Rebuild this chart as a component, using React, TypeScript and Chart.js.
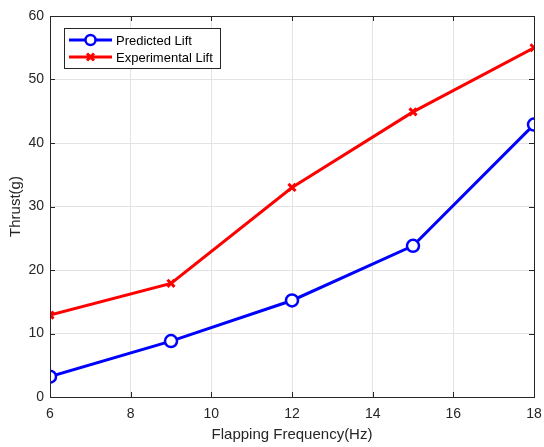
import React, { useEffect, useRef } from "react";
import { Chart, registerables } from "chart.js";

Chart.register(...registerables);

const frequencies = [6, 9, 12, 15, 18];
const predictedLift = [3.2, 8.8, 15.2, 23.8, 42.9];
const experimentalLift = [12.9, 17.9, 33.0, 44.9, 55.0];
const seriesNames = ["Predicted Lift", "Experimental Lift"];
const xTitle = "Flapping Frequency(Hz)";
const yTitle = "Thrust(g)";

const FONT = "'Liberation Sans', Arial, Helvetica, sans-serif";
const TEXT = "#262626";

const framePlugin = {
  id: "frame",
  afterDatasetsDraw(chart: any) {
    const { ctx, chartArea: a, scales } = chart;
    ctx.save();
    ctx.strokeStyle = "#262626";
    ctx.lineWidth = 1;
    ctx.strokeRect(a.left + 0.5, a.top + 0.5, a.right - a.left, a.bottom - a.top);
    const tl = 5;
    ctx.beginPath();
    scales.x.ticks.forEach((t: any) => {
      const px = Math.round(scales.x.getPixelForValue(t.value)) + 0.5;
      ctx.moveTo(px, a.bottom);
      ctx.lineTo(px, a.bottom - tl);
      ctx.moveTo(px, a.top);
      ctx.lineTo(px, a.top + tl);
    });
    scales.y.ticks.forEach((t: any) => {
      const py = Math.round(scales.y.getPixelForValue(t.value)) + 0.5;
      ctx.moveTo(a.left, py);
      ctx.lineTo(a.left + tl, py);
      ctx.moveTo(a.right, py);
      ctx.lineTo(a.right - tl, py);
    });
    ctx.stroke();

    // legend
    const lx = a.left + 14;
    const ly = a.top + 12;
    const lw = 156;
    const lh = 40;
    ctx.fillStyle = "#ffffff";
    ctx.fillRect(lx, ly, lw, lh);
    ctx.strokeStyle = "#262626";
    ctx.strokeRect(lx + 0.5, ly + 0.5, lw, lh);
    const items = chart.data.datasets;
    items.forEach((ds: any, i: number) => {
      const y = ly + 12 + i * 17;
      const x0 = lx + 5;
      const x1 = lx + 48;
      ctx.strokeStyle = ds.borderColor;
      ctx.lineWidth = 3;
      ctx.beginPath();
      ctx.moveTo(x0, y);
      ctx.lineTo(x1, y);
      ctx.stroke();
      const cx = (x0 + x1) / 2;
      if (ds.pointStyle === "circle") {
        ctx.fillStyle = "#ffffff";
        ctx.lineWidth = 2.5;
        ctx.beginPath();
        ctx.arc(cx, y, 5, 0, Math.PI * 2);
        ctx.fill();
        ctx.stroke();
      } else {
        ctx.lineWidth = 3;
        ctx.beginPath();
        ctx.moveTo(cx - 3.5, y - 3.5);
        ctx.lineTo(cx + 3.5, y + 3.5);
        ctx.moveTo(cx + 3.5, y - 3.5);
        ctx.lineTo(cx - 3.5, y + 3.5);
        ctx.stroke();
      }
      ctx.fillStyle = "#000000";
      ctx.font = `13px ${FONT}`;
      ctx.textBaseline = "middle";
      ctx.textAlign = "left";
      ctx.fillText(ds.label, x1 + 4, y + 1);
    });
    ctx.restore();
  },
};

export default function App() {
  const ref = useRef<HTMLCanvasElement>(null);
  useEffect(() => {
    document.body.style.margin = "0";
    const chart = new Chart(ref.current!, {
      type: "line",
      data: {
        datasets: [
          {
            label: seriesNames[0],
            data: frequencies.map((f, i) => ({ x: f, y: predictedLift[i] })),
            borderColor: "#0000ff",
            backgroundColor: "#ffffff",
            borderWidth: 3,
            pointStyle: "circle",
            pointRadius: 6,
            pointBorderWidth: 2.5,
            pointBackgroundColor: "#ffffff",
            pointBorderColor: "#0000ff",
          },
          {
            label: seriesNames[1],
            data: frequencies.map((f, i) => ({ x: f, y: experimentalLift[i] })),
            borderColor: "#ff0000",
            backgroundColor: "#ff0000",
            borderWidth: 3,
            pointStyle: "crossRot",
            pointRadius: 5,
            pointBorderWidth: 3,
            pointBorderColor: "#ff0000",
          },
        ],
      },
      options: {
        responsive: false,
        animation: false,
        layout: { padding: { left: 0, right: 10, top: 16, bottom: 0 } },
        plugins: { legend: { display: false }, tooltip: { enabled: false } },
        scales: {
          x: {
            type: "linear",
            min: 6,
            max: 18,
            ticks: {
              stepSize: 2,
              color: TEXT,
              font: { family: FONT, size: 14 },
              padding: 9,
              maxRotation: 0,
            },
            grid: { color: "#e3e3e3", drawTicks: false },
            border: { display: false },
            title: {
              display: true,
              text: xTitle,
              color: TEXT,
              font: { family: FONT, size: 15 },
              padding: { top: 2, bottom: 3 },
            },
            afterFit(scale: any) {
              scale.height = 50;
              scale.paddingLeft = 0;
              scale.paddingRight = 0;
            },
          },
          y: {
            min: 0,
            max: 60,
            ticks: {
              stepSize: 10,
              color: TEXT,
              font: { family: FONT, size: 14 },
              padding: 6,
            },
            grid: { color: "#e3e3e3", drawTicks: false },
            border: { display: false },
            title: {
              display: true,
              text: yTitle,
              color: TEXT,
              font: { family: FONT, size: 15 },
              padding: { top: 7, bottom: 4 },
            },
            afterFit(scale: any) {
              scale.width = 50;
              scale.paddingTop = 0;
              scale.paddingBottom = 0;
            },
          },
        },
      },
      plugins: [framePlugin],
    });
    return () => chart.destroy();
  }, []);
  return <canvas ref={ref} width={544} height={447} style={{ display: "block" }} />;
}
